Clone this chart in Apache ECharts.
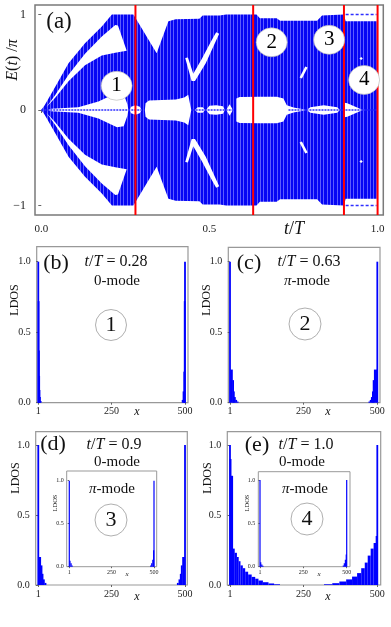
<!DOCTYPE html>
<html>
<head>
<meta charset="utf-8">
<script src="https://cdn.jsdelivr.net/npm/echarts@6.0.0/dist/echarts.min.js"></script>
<style>
html,body{margin:0;padding:0;background:#fff;}
#chart{width:391px;height:627px;}
</style>
</head>
<body>
<div id="chart"></div>
<script>
// ================= DATA =================
// Panel (a): upper half of Floquet quasi-energy spectrum E(t)/pi vs t/T (lower half mirrors it)
const spectrumUpperEdge = [[0,0],[0.01,0.05],[0.042,0.245],[0.081,0.49],[0.13,0.70],[0.18,0.875],[0.21,1.0],[0.274,1.0],[0.343,0.595],[0.378,0.93],[0.40,0.95],[0.47,0.955],[0.48,0.99],[0.53,0.99],[0.55,1.0],[0.64,1.0],[0.65,0.96],[0.70,0.96],[0.71,0.935],[0.82,0.935],[0.835,0.99],[0.90,1.0],[0.905,0.93],[0.997,0.93],[0.998,0]];
// spectral gaps touching E = 0 (upper half)
const gapNearZeroA = [[0.02,0],[0.03,0.012],[0.11,0.03],[0.17,0.09],[0.225,0.18],[0.245,0.17],[0.256,0.06],[0.259,0]];
const gapCircle1   = [[0.263,0],[0.267,0.035],[0.28,0.05],[0.293,0.035],[0.298,0]];
const gapBlobA     = [[0.308,0],[0.31,0.07],[0.32,0.1],[0.36,0.105],[0.40,0.11],[0.425,0.13],[0.437,0.16],[0.443,0.05],[0.446,0]];
const gapOvalA     = [[0.457,0],[0.465,0.03],[0.48,0.03],[0.487,0]];
const gapOvalB     = [[0.49,0],[0.50,0.045],[0.52,0.05],[0.54,0.04],[0.546,0]];
const gapDiamond   = [[0.55,0],[0.56,0.06],[0.57,0]];
const gapBlobB     = [[0.58,0],[0.58,0.12],[0.59,0.135],[0.65,0.14],[0.70,0.14],[0.72,0.12],[0.73,0.05],[0.75,0.025],[0.783,0.006],[0.786,0]];
const gapLens      = [[0.789,0],[0.80,0.03],[0.84,0.05],[0.88,0.03],[0.888,0]];
const gapArrow     = [[0.902,0],[0.902,0.075],[0.91,0.07],[0.956,0]];
// spectral gaps away from E = 0 (upper half)
const gapWedge = [[0.015,0.03],[0.042,0.16],[0.081,0.37],[0.13,0.59],[0.18,0.77],[0.22,0.89],[0.228,0.885],[0.254,0.62],[0.22,0.60],[0.18,0.57],[0.13,0.47],[0.081,0.30],[0.042,0.13]];
const gapCheck = [[0.428,0.545],[0.436,0.55],[0.452,0.38],[0.478,0.54],[0.505,0.72],[0.52,0.815],[0.529,0.80],[0.511,0.66],[0.489,0.49],[0.457,0.305],[0.447,0.305]];
const gapDash  = [[0.768,0.34],[0.775,0.33],[0.792,0.445],[0.785,0.455]];
const gapDot   = [[0.946,0.54],[0.951,0.525],[0.956,0.54],[0.951,0.555]];
// 0-mode (E=0) and pi-mode (E=±1) spans in t/T
const zeroModeSpans = [[0,0.298],[0.45,0.575],[0.735,0.998]];
const piModeSpans = [[0.905,0.997]];
// selected times (red lines)
const selectedTimes = [0.28, 0.63, 0.9, 1.0];
// region markers [t/T, E/pi]
const regionMarkers = [[0.224,0.254],[0.685,0.709],[0.856,0.735],[0.96,0.315]];
const regionLabels = ['1','2','3','4'];
// tick values
const tTicks = [0, 0.5, 1];
const eTicks = [-1, 0, 1];
const siteTicks = [1, 250, 500];
const ldosTicks = [0, 0.5, 1];
// LDOS blocks: [firstSite, lastSite, LDOS]
const ldosB_left  = [[1,1,1.0],[2,2,0.72],[3,3,0.37],[4,4,0.19],[5,5,0.09],[6,7,0.04],[8,10,0.012]];
const ldosB_right = [[500,500,1.0],[499,499,0.72],[497,498,0.22],[494,496,0.08],[491,493,0.02]];
const ldosC_left  = [[1,1,1.0],[2,10,0.235],[11,12,0.16],[13,15,0.08],[16,19,0.04],[20,24,0.02],[25,29,0.008]];
const ldosC_right = [[500,500,1.0],[489,499,0.235],[487,488,0.16],[484,486,0.08],[480,483,0.04],[476,479,0.02],[471,475,0.008]];
const ldosD_left  = [[1,1,1.0],[2,10,0.2],[11,13,0.14],[14,17,0.08],[18,22,0.04],[23,28,0.015]];
const ldosD_right = [[500,500,1.0],[491,499,0.2],[488,490,0.14],[484,487,0.08],[479,483,0.04],[473,478,0.015]];
const ldosE_left  = [[1,1,1.0],[2,4,0.9],[5,11,0.78],[12,16,0.26],[17,24,0.23],[25,30,0.2],[31,36,0.17],[37,44,0.14],[45,52,0.12],[53,62,0.095],[63,74,0.075],[75,86,0.058],[87,97,0.045],[98,112,0.032],[113,131,0.02],[132,150,0.011],[151,170,0.005]];
const ldosE_right = [[500,500,1.0],[496,499,0.35],[488,495,0.3],[478,487,0.26],[468,477,0.21],[458,467,0.16],[446,457,0.12],[432,445,0.085],[415,431,0.06],[395,414,0.04],[372,394,0.025],[348,371,0.013],[320,347,0.005]];
const insetD_left  = [[1,1,1.0],[2,8,0.07],[9,14,0.04],[15,20,0.015]];
const insetD_right = [[500,500,1.0],[497,499,0.19],[490,496,0.08],[484,489,0.04],[478,483,0.015]];
const insetE_left  = [[1,1,1.0],[2,8,0.05],[9,14,0.025],[15,20,0.01]];
const insetE_right = [[500,500,1.0],[496,499,0.14],[490,495,0.08],[484,489,0.04],[478,483,0.015]];

// ================= STYLE / BUILD =================
const FONT = 'Liberation Serif';
const BLUE = '#0000ff';
const bluePattern = (function(){
  const c = document.createElement('canvas'); c.width = 10; c.height = 2;
  const g = c.getContext('2d');
  g.fillStyle = '#0606f4'; g.fillRect(0,0,10,2);
  g.fillStyle = '#5c5cff'; [0,3,7].forEach(function(x){ g.fillRect(x,0,1,2); });
  return {image: c, repeat: 'repeat'};
})();

function mirrorJoin(poly){ return poly.concat(poly.slice().reverse().map(function(p){return [p[0], -p[1]];})); }
function mirror(poly){ return poly.map(function(p){return [p[0], -p[1]];}); }

const shapes = [{pts: mirrorJoin(spectrumUpperEdge), fill: bluePattern}];
[gapNearZeroA,gapCircle1,gapBlobA,gapOvalA,gapOvalB,gapDiamond,gapBlobB,gapLens,gapArrow].forEach(function(h){
  shapes.push({pts: mirrorJoin(h), fill:'#ffffff'});
});
[gapWedge,gapCheck,gapDash,gapDot].forEach(function(h){
  shapes.push({pts: h, fill:'#ffffff'});
  shapes.push({pts: mirror(h), fill:'#ffffff'});
});

function mkAxis(gridIndex, min, max, vals, fmt, fontSize, margin, tickLen){
  return {
    type:'value', gridIndex: gridIndex, min: min, max: max,
    splitLine:{show:false}, axisLine:{show:false},
    axisTick:{show:true, inside:false, customValues: vals, length: tickLen, lineStyle:{color:'#666', width:1}},
    axisLabel:{show:true, customValues: vals, formatter: fmt, fontFamily: FONT, fontSize: fontSize, color:'#222', margin: margin}
  };
}
const fmtT = function(v){ return v.toFixed(1); };
const fmtE = function(v){ return v < 0 ? '\u22121' : String(v); };
const fmtS = function(v){ return String(v); };
const fmtL = function(v){ return v.toFixed(1); };

const grids = [
  {left:35, top:5, width:348.3, height:210, borderColor:'#7a7a7a', borderWidth:1.5},
  {left:36.7, top:246.7, width:151.3, height:156, borderColor:'#999', borderWidth:1.2},
  {left:228.3, top:247.3, width:151.7, height:155.4, borderColor:'#999', borderWidth:1.2},
  {left:35.7, top:431.7, width:151.6, height:153.3, borderColor:'#999', borderWidth:1.2},
  {left:227.3, top:431.7, width:153.4, height:153.3, borderColor:'#999', borderWidth:1.2},
  {left:66.7, top:471, width:90, height:95.7, borderColor:'#999', borderWidth:1},
  {left:258.3, top:471.7, width:91.7, height:95, borderColor:'#999', borderWidth:1}
].map(function(g){ return Object.assign({show:true, backgroundColor:'#fff', containLabel:false, outerBoundsMode:'none'}, g); });

const xAxes = [
  mkAxis(0, -0.0187, 1.017, tTicks, fmtT, 11, 9, 3),
  mkAxis(1, -4.44, 510.2, siteTicks, fmtS, 10, 4, 2),
  mkAxis(2, -4.76, 509.1, siteTicks, fmtS, 10, 4, 2),
  mkAxis(3, -7.8, 507.8, siteTicks, fmtS, 10, 4, 2),
  mkAxis(4, -8.1, 511.5, siteTicks, fmtS, 10, 4, 2),
  mkAxis(5, -14.3, 515.9, siteTicks, fmtS, 6, 3, 1.5),
  mkAxis(6, -8.8, 519, siteTicks, fmtS, 6, 3, 1.5)
];
const yAxes = [
  mkAxis(0, -1.1, 1.1, eTicks, fmtE, 12, 9, 3),
  mkAxis(1, 0, 1.106, ldosTicks, fmtL, 10, 6, 2),
  mkAxis(2, 0, 1.102, ldosTicks, fmtL, 10, 6, 2),
  mkAxis(3, 0, 1.095, ldosTicks, fmtL, 10, 6, 2),
  mkAxis(4, 0, 1.095, ldosTicks, fmtL, 10, 6, 2),
  mkAxis(5, 0, 1.113, ldosTicks, fmtL, 6, 3, 1.5),
  mkAxis(6, 0, 1.096, ldosTicks, fmtL, 6, 3, 1.5)
];

function ldosSeries(idx, blocks, minW){
  return {
    type:'custom', xAxisIndex: idx, yAxisIndex: idx, silent:true, z: 3,
    data: blocks, encode:{x:[0,1], y:2},
    renderItem: function(params, api){
      const s = api.value(0), e = api.value(1), v = api.value(2);
      const p0 = api.coord([s - 0.5, v]);
      const p1 = api.coord([e + 0.5, 0]);
      let x = p0[0], w = p1[0] - p0[0];
      if (w < minW) { x = (p0[0] + p1[0]) / 2 - minW / 2; w = minW; }
      return {type:'rect', shape:{x:x, y:p0[1], width:w, height:p1[1]-p0[1]}, style:{fill:BLUE}};
    }
  };
}

const series = [
  {
    type:'custom', xAxisIndex:0, yAxisIndex:0, silent:true, z:1,
    data: shapes.map(function(s,i){ return [0.5, 0, i]; }), encode:{x:0, y:1},
    renderItem: function(params, api){
      const s = shapes[params.dataIndex];
      return {type:'polygon', shape:{points: s.pts.map(function(p){ return api.coord(p); })}, style:{fill: s.fill}};
    }
  },
  {
    type:'custom', xAxisIndex:0, yAxisIndex:0, silent:true, z:2,
    data: zeroModeSpans, encode:{x:[0,1]},
    renderItem: function(params, api){
      const a = api.coord([api.value(0), 0]), b = api.coord([api.value(1), 0]);
      return {type:'line', shape:{x1:a[0], y1:a[1], x2:b[0], y2:b[1]}, style:{stroke:'#2f2fff', lineWidth:1.3, lineDash:[2,1]}};
    }
  },
  {
    type:'custom', xAxisIndex:0, yAxisIndex:0, silent:true, z:2,
    data: piModeSpans, encode:{x:[0,1]},
    renderItem: function(params, api){
      const out = [];
      [1,-1].forEach(function(e){
        const a = api.coord([api.value(0), e]), b = api.coord([api.value(1), e]);
        out.push({type:'line', shape:{x1:a[0], y1:a[1], x2:b[0], y2:b[1]}, style:{stroke:'#2f2fff', lineWidth:1.4, lineDash:[3,2]}});
      });
      return {type:'group', children: out};
    }
  },
  {
    type:'custom', xAxisIndex:0, yAxisIndex:0, silent:true, z:3,
    data: selectedTimes.map(function(t){ return [t]; }), encode:{x:0},
    renderItem: function(params, api){
      const a = api.coord([api.value(0), -1.1]), b = api.coord([api.value(0), 1.1]);
      return {type:'line', shape:{x1:a[0], y1:a[1], x2:b[0], y2:b[1]}, style:{stroke:'#ff0000', lineWidth:2}};
    }
  },
  {
    type:'scatter', xAxisIndex:0, yAxisIndex:0, silent:true, z:4,
    data: regionMarkers, symbol:'circle', symbolSize:[31,29],
    itemStyle:{color:'#fff', borderColor:'#b0b0b0', borderWidth:0.6, opacity:1},
    label:{show:true, position:'inside', formatter: function(p){ return regionLabels[p.dataIndex]; }, fontFamily:FONT, fontSize:21, color:'#000'}
  },
  ldosSeries(1, ldosB_left.concat(ldosB_right), 1.8),
  ldosSeries(2, ldosC_left.concat(ldosC_right), 1.8),
  ldosSeries(3, ldosD_left.concat(ldosD_right), 1.8),
  ldosSeries(4, ldosE_left.concat(ldosE_right), 1.8),
  ldosSeries(5, insetD_left.concat(insetD_right), 1.2),
  ldosSeries(6, insetE_left.concat(insetE_right), 1.2)
];

function txt(x, y, text, size, extra){
  const rich = {i:{fontFamily:FONT, fontStyle:'italic', fontSize:size, fill:'#111'}};
  return Object.assign({
    type:'text', x:x, y:y, z:100, silent:true,
    style:{text:text, fontFamily:FONT, fontSize:size, fill:'#111', align:'center', verticalAlign:'middle', textAlign:'center', textVerticalAlign:'middle', rich:rich}
  }, extra || {});
}
function circ(cx, cy, r){
  return {type:'circle', z:90, silent:true, shape:{cx:cx, cy:cy, r:r}, style:{fill:'#fff', stroke:'#9a9a9a', lineWidth:0.8}};
}
const rot = {rotation: Math.PI/2};
const graphics = [
  txt(59, 22, '(a)', 23),
  txt(13, 60, '{i|E}({i|t}) /{i|\u03c0}', 16, rot),
  txt(294, 229, '{i|t}/{i|T}', 18),
  // (b)
  txt(56, 263, '(b)', 22),
  txt(116, 262, '{i|t}/{i|T} = 0.28', 16),
  txt(117, 281, '0-mode', 15),
  txt(15, 300, 'LDOS', 12, rot),
  txt(137, 412, '{i|x}', 12),
  circ(111, 325, 15.5), txt(111, 325, '1', 22),
  // (c)
  txt(249, 263, '(c)', 22),
  txt(309, 262, '{i|t}/{i|T} = 0.63', 16),
  txt(307, 281, '{i|\u03c0}-mode', 15),
  txt(207, 300, 'LDOS', 12, rot),
  txt(328, 412, '{i|x}', 12),
  circ(305, 324, 16), txt(305, 324, '2', 22),
  // (d)
  txt(53, 444, '(d)', 22),
  txt(114, 445, '{i|t}/{i|T} = 0.9', 16),
  txt(117, 462, '0-mode', 15),
  txt(16, 478, 'LDOS', 12, rot),
  txt(137, 597, '{i|x}', 12),
  txt(112, 489, '{i|\u03c0}-mode', 15),
  txt(55, 503, 'LDOS', 6.5, rot),
  txt(127, 574, '{i|x}', 7),
  circ(111, 520, 16), txt(111, 520, '3', 22),
  // (e)
  txt(257, 445, '(e)', 22),
  txt(306, 445, '{i|t}/{i|T} = 1.0', 16),
  txt(302, 462, '0-mode', 15),
  txt(208, 478, 'LDOS', 12, rot),
  txt(328, 597, '{i|x}', 12),
  txt(305, 489, '{i|\u03c0}-mode', 15),
  txt(247, 503, 'LDOS', 6.5, rot),
  txt(319, 574, '{i|x}', 7),
  circ(307, 519, 16), txt(307, 519, '4', 22)
];

const option = {
  animation:false,
  backgroundColor:'#fff',
  grid: grids,
  xAxis: xAxes,
  yAxis: yAxes,
  series: series,
  graphic: {elements: graphics}
};
const chart = echarts.init(document.getElementById('chart'), null, {renderer:'canvas'});
chart.setOption(option);
</script>
</body>
</html>
